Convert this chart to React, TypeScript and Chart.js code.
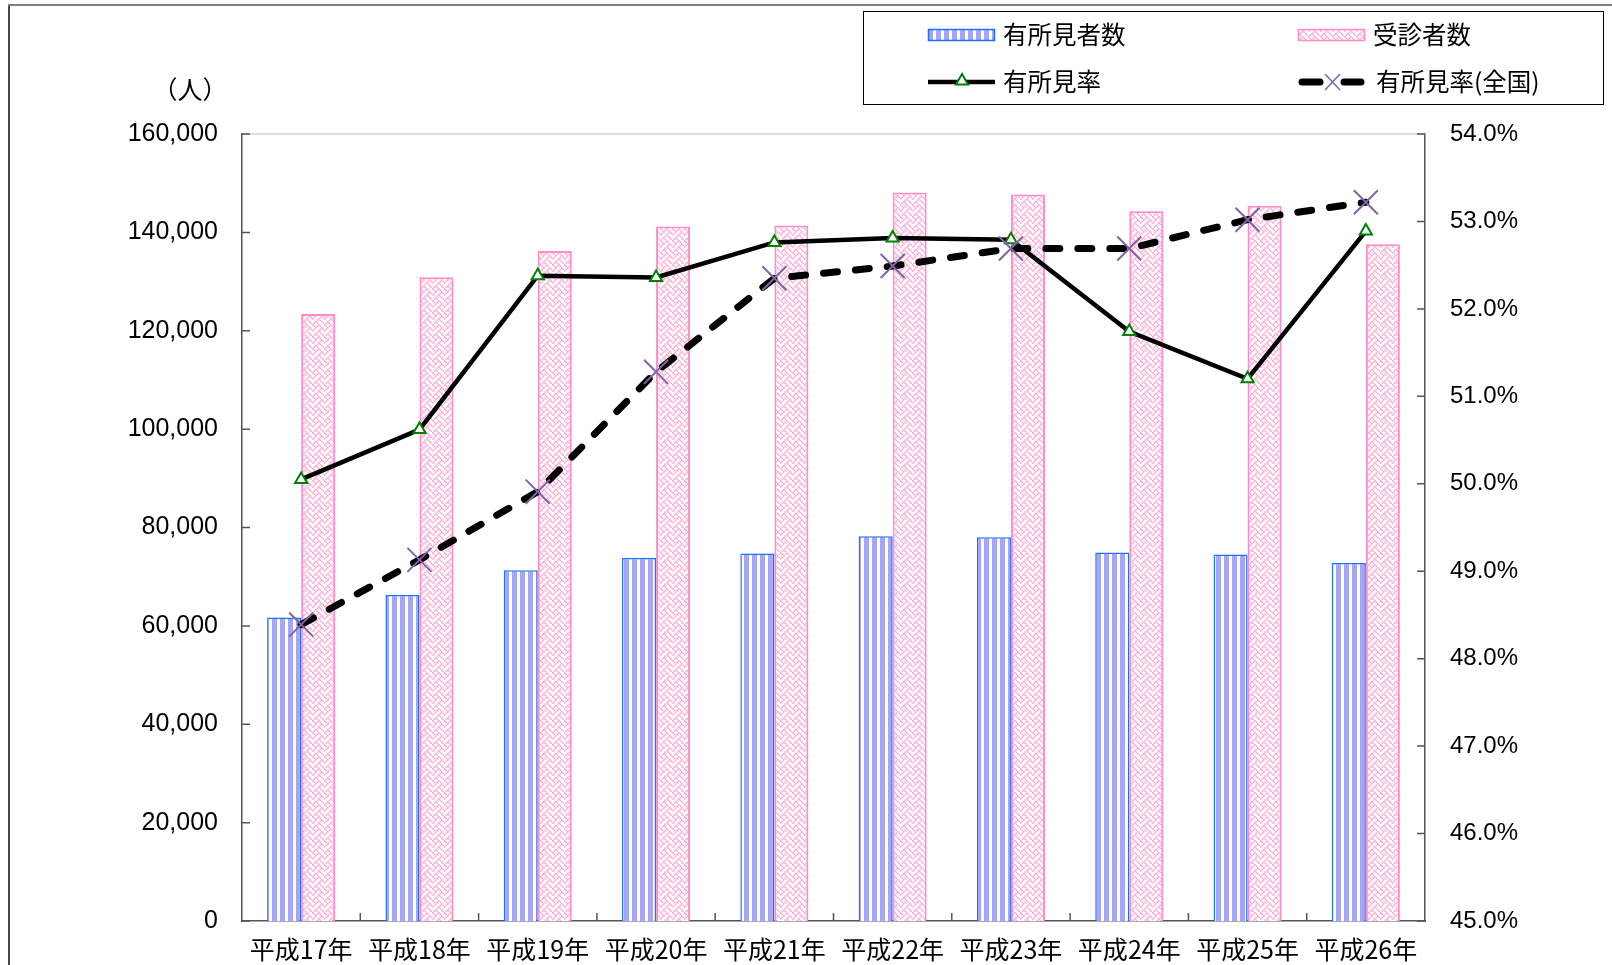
import React, { useEffect, useRef } from "react";
import { Chart, registerables } from "chart.js";

Chart.register(...registerables);

const categories = ["平成17年", "平成18年", "平成19年", "平成20年", "平成21年", "平成22年", "平成23年", "平成24年", "平成25年", "平成26年"];
const findingsCount = [61700, 66300, 71300, 73800, 74700, 78200, 78000, 74900, 74500, 72800];
const examineeCount = [123400, 130900, 136200, 141200, 141400, 148100, 147700, 144300, 145400, 137600];
const findingsRate = [50.05, 50.62, 52.38, 52.36, 52.76, 52.81, 52.79, 51.74, 51.2, 52.89];
const nationalRate = [48.39, 49.13, 49.91, 51.28, 52.35, 52.49, 52.69, 52.69, 53.02, 53.22];
const leftTicks = [0, 20000, 40000, 60000, 80000, 100000, 120000, 140000, 160000];
const rightTicks = [45, 46, 47, 48, 49, 50, 51, 52, 53, 54];
const legendLabels = ["有所見者数", "受診者数", "有所見率", "有所見率(全国)"];
const unitLabel = "（人）";

const JP = "'Noto Sans CJK JP', 'Noto Sans', sans-serif";
const NUM = "'Liberation Sans', Arial, sans-serif";

function makeStripe(): CanvasPattern | string {
  const c = document.createElement("canvas");
  c.width = 8;
  c.height = 8;
  const g = c.getContext("2d");
  if (!g) return "#a0a0f8";
  g.fillStyle = "#ffffff";
  g.fillRect(0, 0, 8, 8);
  g.fillStyle = "#a6a6f8";
  g.fillRect(0, 0, 5, 8);
  const p = g.createPattern(c, "repeat");
  return p || "#a0a0f8";
}

function makeWeave(): CanvasPattern | string {
  const bits = [0x88, 0x54, 0x22, 0x45, 0x88, 0x14, 0x22, 0x51];
  const s = 1.5;
  const c = document.createElement("canvas");
  c.width = 12;
  c.height = 12;
  const g = c.getContext("2d");
  if (!g) return "#ffc0dd";
  g.fillStyle = "#ffffff";
  g.fillRect(0, 0, 12, 12);
  g.fillStyle = "#ffa6d0";
  for (let r = 0; r < 8; r++) {
    for (let b = 0; b < 8; b++) {
      if (bits[r] & (0x80 >> b)) {
        g.fillRect(b * s, r * s, 1.7, 1.7);
      }
    }
  }
  const p = g.createPattern(c, "repeat");
  return p || "#ffc0dd";
}

function drawTriangle(ctx: CanvasRenderingContext2D, x: number, y: number, r: number) {
  ctx.beginPath();
  ctx.moveTo(x, y - r);
  ctx.lineTo(x + r * Math.sin(Math.PI / 3), y + r / 2);
  ctx.lineTo(x - r * Math.sin(Math.PI / 3), y + r / 2);
  ctx.closePath();
  ctx.fillStyle = "#ffffff";
  ctx.fill();
  ctx.strokeStyle = "#008000";
  ctx.lineWidth = 2;
  ctx.stroke();
}

export default function App() {
  const ref = useRef<HTMLCanvasElement | null>(null);

  useEffect(() => {
    const canvas = ref.current;
    if (!canvas) return;
    const stripe = makeStripe();
    const weave = makeWeave();

    const decor = {
      id: "decor",
      beforeDatasetsDraw(chart: any) {
        const { ctx, chartArea } = chart;
        const y = chart.scales.y;
        const y2 = chart.scales.y2;
        const x = chart.scales.x;
        ctx.save();
        ctx.strokeStyle = "#d0d0d0";
        ctx.lineWidth = 1.5;
        ctx.beginPath();
        ctx.moveTo(chartArea.left, chartArea.top);
        ctx.lineTo(chartArea.right, chartArea.top);
        ctx.stroke();
        ctx.strokeStyle = "#555555";
        ctx.lineWidth = 1.5;
        ctx.beginPath();
        leftTicks.forEach((v) => {
          const py = y.getPixelForValue(v);
          ctx.moveTo(chartArea.left, py);
          ctx.lineTo(chartArea.left + 8, py);
        });
        rightTicks.forEach((v) => {
          const py = y2.getPixelForValue(v);
          ctx.moveTo(chartArea.right, py);
          ctx.lineTo(chartArea.right - 8, py);
        });
        for (let i = 1; i < categories.length; i++) {
          const px = (x.getPixelForValue(i - 1) + x.getPixelForValue(i)) / 2;
          ctx.moveTo(px, chartArea.bottom);
          ctx.lineTo(px, chartArea.bottom - 8);
        }
        ctx.stroke();
        ctx.restore();
      },
      afterDraw(chart: any) {
        const { ctx } = chart;
        ctx.save();
        ctx.strokeStyle = "#808080";
        ctx.lineWidth = 2;
        ctx.beginPath();
        ctx.moveTo(9, 965);
        ctx.lineTo(9, 5);
        ctx.lineTo(1612, 5);
        ctx.stroke();
        ctx.strokeStyle = "#333333";
        ctx.lineWidth = 1.5;
        ctx.beginPath();
        ctx.moveTo(9, 965);
        ctx.lineTo(9, 6);
        ctx.stroke();

        ctx.fillStyle = "#000000";
        ctx.font = `25px ${JP}`;
        ctx.textAlign = "center";
        ctx.textBaseline = "middle";
        ctx.fillText(unitLabel, 190, 89);

        ctx.strokeStyle = "#000000";
        ctx.lineWidth = 1;
        ctx.strokeRect(863.5, 11.5, 740, 93);

        const r1 = 35;
        const r2 = 82;
        ctx.fillStyle = stripe;
        ctx.fillRect(928, r1 - 6, 67, 12);
        ctx.strokeStyle = "#1f6fff";
        ctx.lineWidth = 1.5;
        ctx.strokeRect(928.5, r1 - 5.5, 66, 11);
        ctx.fillStyle = weave;
        ctx.fillRect(1298, r1 - 6, 67, 12);
        ctx.strokeStyle = "#ff8cc6";
        ctx.lineWidth = 1.5;
        ctx.strokeRect(1298.5, r1 - 5.5, 66, 11);
        ctx.strokeStyle = "#000000";
        ctx.lineWidth = 4.5;
        ctx.beginPath();
        ctx.moveTo(928, r2);
        ctx.lineTo(995, r2);
        ctx.stroke();
        drawTriangle(ctx, 962, r2 - 1, 7);
        ctx.strokeStyle = "#000000";
        ctx.lineCap = "round";
        ctx.lineWidth = 7;
        ctx.beginPath();
        ctx.moveTo(1302, r2);
        ctx.lineTo(1320, r2);
        ctx.moveTo(1344, r2);
        ctx.lineTo(1361, r2);
        ctx.stroke();
        ctx.lineCap = "butt";
        ctx.strokeStyle = "#7f64a8";
        ctx.lineWidth = 1.5;
        ctx.beginPath();
        ctx.moveTo(1325, r2 - 8);
        ctx.lineTo(1340, r2 + 8);
        ctx.moveTo(1340, r2 - 8);
        ctx.lineTo(1325, r2 + 8);
        ctx.stroke();

        ctx.fillStyle = "#000000";
        ctx.font = `24.5px ${JP}`;
        ctx.textAlign = "left";
        ctx.textBaseline = "middle";
        ctx.fillText(legendLabels[0], 1003, r1);
        ctx.fillText(legendLabels[1], 1373, r1);
        ctx.fillText(legendLabels[2], 1003, r2);
        ctx.fillText(legendLabels[3], 1376, r2);
        ctx.restore();
      },
    };

    const chart = new Chart(canvas, {
      type: "bar",
      data: {
        labels: categories,
        datasets: [
          {
            type: "line",
            label: legendLabels[3],
            data: nationalRate,
            yAxisID: "y2",
            order: 1,
            borderColor: "#000000",
            borderWidth: 7,
            borderDash: [14, 18],
            borderCapStyle: "round",
            fill: false,
            tension: 0,
            pointStyle: "crossRot",
            pointRadius: 17,
            pointBorderColor: "#7f64a8",
            pointBorderWidth: 2,
            pointBackgroundColor: "#7f64a8",
          },
          {
            type: "line",
            label: legendLabels[2],
            data: findingsRate,
            yAxisID: "y2",
            order: 2,
            borderColor: "#000000",
            borderWidth: 4.5,
            fill: false,
            tension: 0,
            pointStyle: "triangle",
            pointRadius: 7,
            pointBorderColor: "#008000",
            pointBorderWidth: 2,
            pointBackgroundColor: "#ffffff",
          },
          {
            type: "bar",
            label: legendLabels[0],
            data: findingsCount,
            yAxisID: "y",
            order: 3,
            backgroundColor: stripe as any,
            borderColor: "#1f6fff",
            borderWidth: 1.5,
            categoryPercentage: 0.575,
            barPercentage: 1.0,
          },
          {
            type: "bar",
            label: legendLabels[1],
            data: examineeCount,
            yAxisID: "y",
            order: 4,
            backgroundColor: weave as any,
            borderColor: "#ff8cc6",
            borderWidth: 2,
            categoryPercentage: 0.575,
            barPercentage: 1.0,
          },
        ],
      },
      options: {
        responsive: false,
        animation: false,
        layout: { padding: { top: 134, left: 0, right: 0, bottom: 0 } },
        plugins: {
          legend: { display: false },
          tooltip: { enabled: false },
        },
        scales: {
          x: {
            offset: true,
            grid: { display: false, drawTicks: false },
            border: { display: true, color: "#555555", width: 1.5 },
            ticks: {
              color: "#000000",
              font: { family: JP, size: 25 },
              padding: 13,
              maxRotation: 0,
              autoSkip: false,
            },
            afterFit(scale: any) {
              scale.height = 44;
            },
          },
          y: {
            position: "left",
            min: 0,
            max: 160000,
            afterBuildTicks(scale: any) {
              scale.ticks = leftTicks.map((v) => ({ value: v }));
            },
            grid: { display: false, drawTicks: false },
            border: { display: true, color: "#555555", width: 1.5 },
            ticks: {
              color: "#000000",
              font: { family: NUM, size: 25 },
              padding: 24,
              callback: (v: any) => Number(v).toLocaleString("en-US"),
            },
            afterFit(scale: any) {
              scale.width = 242;
            },
          },
          y2: {
            position: "right",
            min: 45,
            max: 54,
            afterBuildTicks(scale: any) {
              scale.ticks = rightTicks.map((v) => ({ value: v }));
            },
            grid: { display: false, drawTicks: false },
            border: { display: true, color: "#555555", width: 1.5 },
            ticks: {
              color: "#000000",
              font: { family: NUM, size: 24 },
              padding: 25,
              callback: (v: any) => Number(v).toFixed(1) + "%",
            },
            afterFit(scale: any) {
              scale.width = 187;
            },
          },
        },
      },
      plugins: [decor],
    });

    return () => {
      chart.destroy();
    };
  }, []);

  return (
    <div style={{ position: "absolute", left: 0, top: 0, width: 1612, height: 965, background: "#ffffff" }}>
      <canvas ref={ref} width={1612} height={965} style={{ display: "block", width: 1612, height: 965 }} />
    </div>
  );
}
